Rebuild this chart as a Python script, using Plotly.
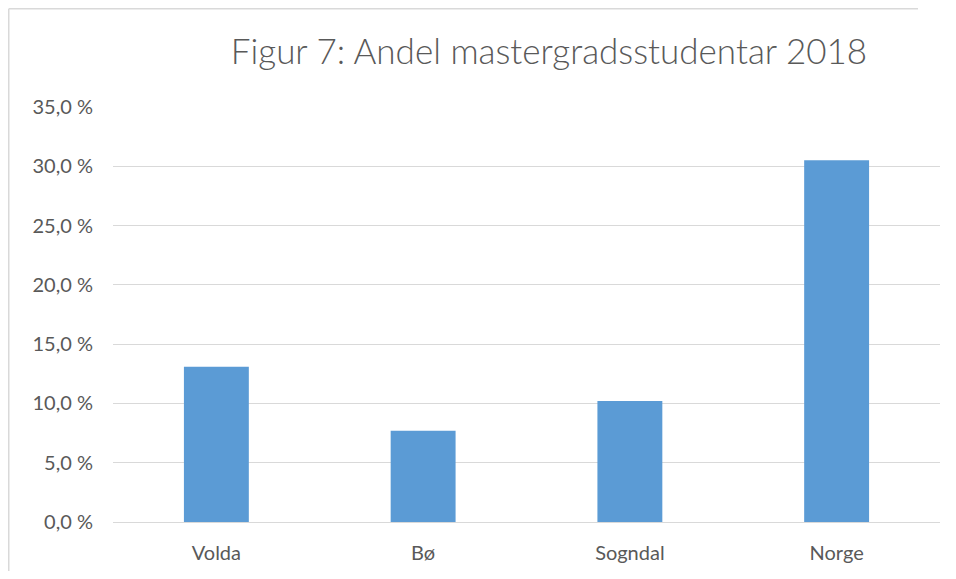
import plotly.graph_objects as go

categories = ["Volda", "Bø", "Sogndal", "Norge"]
values = [13.1, 7.7, 10.2, 30.5]
tick_values = [0, 5, 10, 15, 20, 25, 30, 35]
tick_labels = ["0,0 %", "5,0 %", "10,0 %", "15,0 %", "20,0 %", "25,0 %", "30,0 %", "35,0 %"]
title_text = "Figur 7: Andel mastergradsstudentar 2018"

# page body has an 8px margin, so the figure is placed at (8, 8)
W, H = 940, 563
L, R, T, B = 105, 8, 99, 49
pw, ph = W - L - R, H - T - B

FONT = "Lato"
TXT = "#595959"
GRID = "#D9D9D9"

fig = go.Figure(go.Bar(
    x=categories, y=values,
    marker=dict(color="#5B9BD5", line=dict(width=0)),
    hoverinfo="x+y",
))

def px_x(p):
    return (p - L) / pw

def px_y(p):
    return (H - B - p) / ph

fig.update_layout(
    width=W, height=H,
    margin=dict(l=L, r=R, t=T, b=B),
    paper_bgcolor="white", plot_bgcolor="white",
    bargap=0.686,
    showlegend=False,
    font=dict(family=FONT, color=TXT, size=20),
    title=dict(text=title_text, x=541 / W, xanchor="center", xref="container",
               y=1 - 44 / H, yanchor="middle", yref="container",
               font=dict(family=FONT, size=35, color=TXT, weight=300)),
    xaxis=dict(showgrid=False, showline=False, zeroline=False, ticks="",
               tickfont=dict(family=FONT, size=20, color=TXT), ticklabelstandoff=17),
    yaxis=dict(range=[0, 35], tickvals=tick_values, ticktext=tick_labels,
               showgrid=True, gridcolor=GRID, gridwidth=1.3,
               zeroline=True, zerolinecolor=GRID, zerolinewidth=1.3,
               showline=False, ticks="",
               tickfont=dict(family=FONT, size=20, color=TXT), ticklabelstandoff=19),
    shapes=[
        dict(type="line", xref="paper", yref="paper",
             x0=px_x(0.75), x1=px_x(0.75), y0=px_y(0.75), y1=px_y(H),
             line=dict(color=GRID, width=1.5)),
        dict(type="line", xref="paper", yref="paper",
             x0=px_x(0.75), x1=px_x(W - 30), y0=px_y(0.75), y1=px_y(0.75),
             line=dict(color=GRID, width=1.5)),
    ],
)

fig.write_html("out.html")
